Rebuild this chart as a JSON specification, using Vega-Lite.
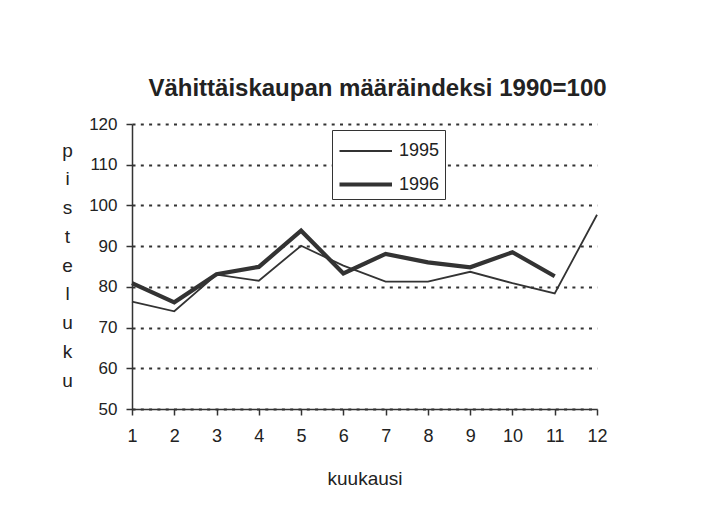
{
  "$schema": "https://vega.github.io/schema/vega-lite/v6.json",
  "width": 465,
  "height": 285,
  "autosize": {"type": "none"},
  "padding": {"left": 132, "top": 124, "right": 121, "bottom": 118},
  "background": "white",
  "config": {
    "font": "Liberation Sans",
    "view": {"stroke": null},
    "axis": {
      "domainColor": "#333",
      "domainWidth": 1.5,
      "tickColor": "#333",
      "tickWidth": 1.5,
      "labelColor": "#222",
      "titleColor": "#222",
      "labelFont": "Liberation Sans",
      "titleFont": "Liberation Sans"
    }
  },
  "title": {
    "text": "Vähittäiskaupan määräindeksi 1990=100",
    "font": "Liberation Sans",
    "fontSize": 24,
    "fontWeight": "bold",
    "color": "#222",
    "anchor": "middle",
    "frame": "group",
    "baseline": "alphabetic",
    "offset": -5,
    "dx": 13
  },
  "data": {
    "values": [
      {"kuukausi": 1, "vuosi": "1995", "pisteluku": 76.4},
      {"kuukausi": 2, "vuosi": "1995", "pisteluku": 74.0},
      {"kuukausi": 3, "vuosi": "1995", "pisteluku": 83.0},
      {"kuukausi": 4, "vuosi": "1995", "pisteluku": 81.5},
      {"kuukausi": 5, "vuosi": "1995", "pisteluku": 90.1},
      {"kuukausi": 6, "vuosi": "1995", "pisteluku": 85.2},
      {"kuukausi": 7, "vuosi": "1995", "pisteluku": 81.3},
      {"kuukausi": 8, "vuosi": "1995", "pisteluku": 81.3},
      {"kuukausi": 9, "vuosi": "1995", "pisteluku": 83.7},
      {"kuukausi": 10, "vuosi": "1995", "pisteluku": 80.9},
      {"kuukausi": 11, "vuosi": "1995", "pisteluku": 78.4},
      {"kuukausi": 12, "vuosi": "1995", "pisteluku": 97.7},
      {"kuukausi": 1, "vuosi": "1996", "pisteluku": 80.9},
      {"kuukausi": 2, "vuosi": "1996", "pisteluku": 76.2},
      {"kuukausi": 3, "vuosi": "1996", "pisteluku": 83.1},
      {"kuukausi": 4, "vuosi": "1996", "pisteluku": 84.9},
      {"kuukausi": 5, "vuosi": "1996", "pisteluku": 93.8},
      {"kuukausi": 6, "vuosi": "1996", "pisteluku": 83.3},
      {"kuukausi": 7, "vuosi": "1996", "pisteluku": 88.1},
      {"kuukausi": 8, "vuosi": "1996", "pisteluku": 86.0},
      {"kuukausi": 9, "vuosi": "1996", "pisteluku": 84.8},
      {"kuukausi": 10, "vuosi": "1996", "pisteluku": 88.5},
      {"kuukausi": 11, "vuosi": "1996", "pisteluku": 82.6}
    ]
  },
  "mark": {"type": "line", "color": "#333", "strokeJoin": "miter", "clip": false},
  "encoding": {
    "x": {
      "field": "kuukausi",
      "type": "quantitative",
      "scale": {"domain": [1, 12], "nice": false, "zero": false},
      "axis": {
        "title": "kuukausi",
        "values": [1, 2, 3, 4, 5, 6, 7, 8, 9, 10, 11, 12],
        "format": "d",
        "grid": false,
        "labelFontSize": 18,
        "labelPadding": 12,
        "tickSize": 6,
        "labelFlush": false,
        "titleFontSize": 19,
        "titleFontWeight": "normal",
        "titleBaseline": "alphabetic",
        "titleY": 75
      }
    },
    "y": {
      "field": "pisteluku",
      "type": "quantitative",
      "scale": {"domain": [50, 120], "nice": false, "zero": false},
      "axis": {
        "title": ["p", "i", "s", "t", "e", "l", "u", "k", "u"],
        "values": [50, 60, 70, 80, 90, 100, 110, 120],
        "grid": true,
        "gridColor": "#333",
        "gridWidth": 2.2,
        "gridDash": [3, 5.3],
        "labelFontSize": 17,
        "labelPadding": 9,
        "tickSize": 6,
        "labelFlush": false,
        "titleAngle": 0,
        "titleAlign": "center",
        "titleBaseline": "alphabetic",
        "titleFontSize": 19,
        "titleFontWeight": "normal",
        "titleLineHeight": 28.75,
        "titleX": -65,
        "titleY": 32
      }
    },
    "strokeWidth": {
      "field": "vuosi",
      "type": "nominal",
      "scale": {"domain": ["1995", "1996"], "range": [1.8, 4.2]},
      "legend": {
        "title": null,
        "orient": "none",
        "legendX": 200,
        "legendY": 6,
        "strokeColor": "#333",
        "fillColor": "white",
        "padding": 5,
        "symbolType": "M-1,0H2.5",
        "symbolSize": 900,
        "symbolStrokeColor": "#333",
        "labelFontSize": 18,
        "labelColor": "#222",
        "labelOffset": 27,
        "rowPadding": 7
      }
    }
  }
}
